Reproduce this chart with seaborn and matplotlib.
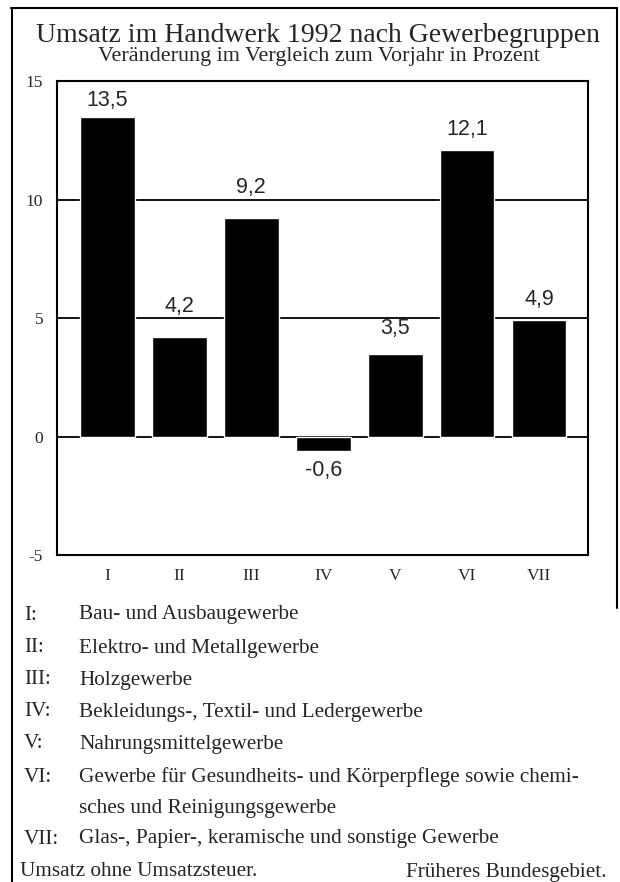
import matplotlib
matplotlib.use("Agg")
from matplotlib import pyplot as plt
from matplotlib.lines import Line2D
import seaborn as sns
import pandas as pd

# Daten
gruppen = ['I', 'II', 'III', 'IV', 'V', 'VI', 'VII']
veraenderung = [13.5, 4.2, 9.2, -0.6, 3.5, 12.1, 4.9]
legende_kurz = ['I:', 'II:', 'III:', 'IV:', 'V:', 'VI:', '', 'VII:']
legende_text = ['Bau- und Ausbaugewerbe',
                'Elektro- und Metallgewerbe',
                'Holzgewerbe',
                'Bekleidungs-, Textil- und Ledergewerbe',
                'Nahrungsmittelgewerbe',
                'Gewerbe für Gesundheits- und Körperpflege sowie chemi-',
                'sches und Reinigungsgewerbe',
                'Glas-, Papier-, keramische und sonstige Gewerbe']
titel = 'Umsatz im Handwerk 1992 nach Gewerbegruppen'
untertitel = 'Veränderung im Vergleich zum Vorjahr in Prozent'
fuss_links = 'Umsatz ohne Umsatzsteuer.'
fuss_rechts = 'Früheres Bundesgebiet.'

# Abstand der Wertebeschriftung zum Balkenende (Pixel)
label_abstand = [16, 30, 31, 20, 25, 20, 21]

sns.set_style('white')
plt.rcParams['font.family'] = ['Liberation Serif', 'DejaVu Serif']

df = pd.DataFrame({'gruppe': gruppen, 'wert': veraenderung})

W, H = 620, 882
fig = plt.figure(figsize=(6.2, 8.82), dpi=100)
ax = fig.add_axes([57 / W, 1 - 555 / H, (588 - 57) / W, (555 - 81) / H])

sns.barplot(data=df, x='gruppe', y='wert', color='black', saturation=1,
            width=0.76, ax=ax, zorder=3)

ax.set_xlim(-0.70, 6.68)
ax.set_ylim(-5, 15)
ax.set_yticks([-5, 0, 5, 10, 15])
ax.set_yticklabels(['-5', '0', '5', '10', '15'])
ax.set_xlabel('')
ax.set_ylabel('')
for v in [0, 5, 10]:
    ax.axhline(v, color='black', lw=1.3, zorder=2)
for s in ax.spines.values():
    s.set_color('black')
    s.set_linewidth(1.5)
ax.tick_params(axis='y', length=0, pad=10, labelsize=12.5)
ax.tick_params(axis='x', length=0, pad=9, labelsize=12.5)

# Wertebeschriftung
for bar, v, d in zip(ax.containers[0], veraenderung, label_abstand):
    x = bar.get_x() + bar.get_width() / 2
    off = d * 0.72 if v >= 0 else -d * 0.72
    ax.annotate(f'{v:.1f}'.replace('.', ','), xy=(x, v), xytext=(0, off),
                textcoords='offset points', ha='center', va='center',
                fontsize=15.5, family='Liberation Sans')

# Titel
fig.text(318 / W, 1 - 35 / H, titel, ha='center', va='center', fontsize=20)
fig.text(319 / W, 1 - 57 / H, untertitel, ha='center', va='center', fontsize=15.9)

# Legende
ys = [615, 648, 680, 712, 744, 777, 808, 839]
for k, t, y in zip(legende_kurz, legende_text, ys):
    fig.text(24 / W, 1 - y / H, k, ha='left', va='center', fontsize=15.3)
    fig.text(79 / W, 1 - y / H, t, ha='left', va='center', fontsize=15.3)
fig.text(20 / W, 1 - 872 / H, fuss_links, ha='left', va='center', fontsize=15.3)
fig.text(607 / W, 1 - 872 / H, fuss_rechts, ha='right', va='center', fontsize=15.3)

# Rahmen
fig.add_artist(Line2D([11 / W, 617 / W], [1 - 8 / H, 1 - 8 / H], color='black', lw=1.5))
fig.add_artist(Line2D([12 / W, 12 / W], [1 - 8 / H, 0], color='black', lw=1.5))
fig.add_artist(Line2D([617 / W, 617 / W], [1 - 8 / H, 1 - 608 / H], color='black', lw=1.5))

fig.savefig('out.png', dpi=100)
